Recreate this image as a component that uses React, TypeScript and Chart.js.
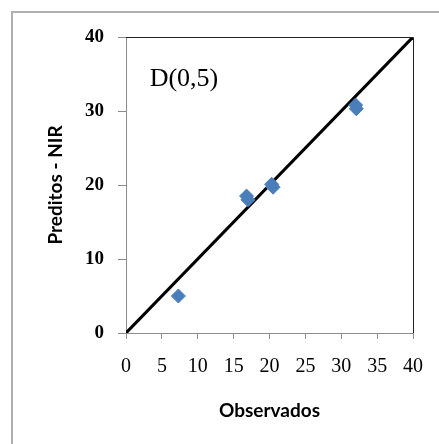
import React, { useEffect, useRef } from "react";
import { Chart, registerables } from "chart.js";

Chart.register(...registerables);

const observados: number[] = [7.3, 16.8, 17.0, 20.3, 20.5, 32.0, 32.1];
const preditos: number[] = [5.0, 18.5, 18.0, 20.1, 19.7, 30.8, 30.3];
const lineX: number[] = [0, 40];
const lineY: number[] = [0, 40];
const xTicks: number[] = [0, 5, 10, 15, 20, 25, 30, 35, 40];
const yTicks: number[] = [0, 10, 20, 30, 40];
const annotationText = "D(0,5)";
const xTitle = "Observados";
const yTitle = "Preditos - NIR";

const framePlugin = {
  id: "framePlugin",
  beforeDraw(chart: any) {
    const ctx = chart.ctx;
    ctx.save();
    ctx.fillStyle = "#ffffff";
    ctx.fillRect(0, 0, chart.width, chart.height);
    ctx.strokeStyle = "#b0b0b0";
    ctx.lineWidth = 2;
    ctx.strokeRect(12, 12, 800, 800);
    ctx.restore();
  },
  afterDraw(chart: any) {
    const ctx = chart.ctx;
    const a = chart.chartArea;
    ctx.save();
    ctx.strokeStyle = "#222222";
    ctx.lineWidth = 1;
    ctx.beginPath();
    ctx.moveTo(a.left, a.top + 0.5);
    ctx.lineTo(a.right + 0.5, a.top + 0.5);
    ctx.lineTo(a.right + 0.5, a.bottom);
    ctx.stroke();
    const xs = chart.scales.x;
    const ys = chart.scales.y;
    ctx.fillStyle = "#000000";
    ctx.font = '26px "Liberation Serif"';
    ctx.textAlign = "left";
    ctx.textBaseline = "middle";
    ctx.fillText(annotationText, xs.getPixelForValue(3.3), ys.getPixelForValue(34.3));
    ctx.restore();
  },
};

export default function App() {
  const ref = useRef<HTMLCanvasElement | null>(null);
  useEffect(() => {
    if (!ref.current) return;
    const chart = new Chart(ref.current, {
      type: "scatter",
      data: {
        datasets: [
          {
            type: "line",
            data: lineX.map((x, i) => ({ x, y: lineY[i] })),
            borderColor: "#000000",
            borderWidth: 3,
            pointRadius: 0,
            fill: false,
            order: 1,
          } as any,
          {
            type: "scatter",
            data: observados.map((x, i) => ({ x, y: preditos[i] })),
            pointStyle: "rectRot",
            pointRadius: 7,
            backgroundColor: "#4a7ebb",
            borderColor: "#4a7ebb",
            borderWidth: 1,
            order: 0,
          },
        ],
      },
      options: {
        animation: false,
        responsive: false,
        devicePixelRatio: 1,
        layout: { padding: { left: 0, top: 37, right: 24, bottom: 0 } },
        plugins: { legend: { display: false }, tooltip: { enabled: false } },
        scales: {
          x: {
            type: "linear",
            min: 0,
            max: 40,
            afterBuildTicks: (s: any) => {
              s.ticks = xTicks.map((v) => ({ value: v }));
            },
            afterFit: (s: any) => {
              s.height = 111;
            },
            border: { display: true, color: "#8c8c8c", width: 1 },
            grid: { drawOnChartArea: false, drawTicks: true, tickLength: 6, color: "#8c8c8c" },
            ticks: {
              color: "#000000",
              padding: 16,
              maxRotation: 0,
              autoSkip: false,
              font: { family: '"Liberation Serif"', size: 20 },
            },
            title: {
              display: true,
              text: xTitle,
              color: "#000000",
              font: { family: "Lato", size: 19, weight: "bold" },
              padding: { top: 0, bottom: 22 },
            },
          },
          y: {
            type: "linear",
            min: 0,
            max: 40,
            afterBuildTicks: (s: any) => {
              s.ticks = yTicks.map((v) => ({ value: v }));
            },
            afterFit: (s: any) => {
              s.width = 126;
            },
            border: { display: true, color: "#8c8c8c", width: 1 },
            grid: { drawOnChartArea: false, drawTicks: true, tickLength: 8, color: "#8c8c8c" },
            ticks: {
              color: "#000000",
              padding: 14,
              font: { family: '"Liberation Serif"', size: 19, weight: "bold" },
            },
            title: {
              display: true,
              text: yTitle,
              color: "#000000",
              font: { family: "Lato", size: 19, weight: "bold" },
              padding: { top: 44, bottom: 0 },
            },
          },
        },
      },
      plugins: [framePlugin],
    });
    return () => chart.destroy();
  }, []);
  return (
    <div style={{ position: "fixed", left: 0, top: 0, width: 439, height: 444, background: "#fff" }}>
      <canvas ref={ref} width={439} height={444} style={{ display: "block" }} />
    </div>
  );
}
